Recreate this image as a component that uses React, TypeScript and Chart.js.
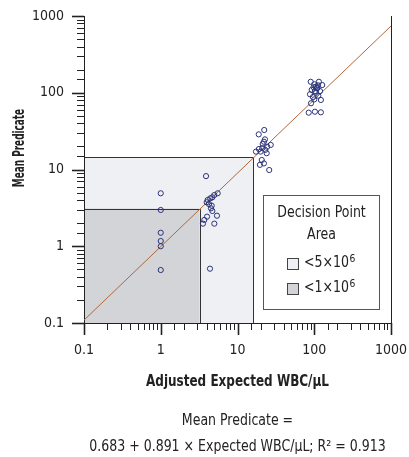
import React, { useEffect, useRef } from "react";
import { Chart, registerables } from "chart.js";

Chart.register(...registerables);

// ---- data ----
const expectedWBC = [
  1, 1, 1, 1, 1, 1,
  3.89, 5.52, 4.99, 4.7, 4.42, 4.09, 3.97, 4.25, 4.61, 4.51, 4.7, 4.01, 5.4, 3.69, 4.99, 3.55, 4.38,
  22.3, 18.9, 22.8, 22.1, 27.1, 21.3, 24.4, 17.4, 20.0, 24.0, 20.7, 22.1, 19.6, 25.9, 19.0, 21.0, 23.0,
  89.9, 115, 127, 100, 108, 92.6, 102, 119, 88, 113, 122, 90.7, 102, 84.7, 122, 105, 110, 112, 98, 106, 96, 100,
];
const meanPredicate = [
  4.9, 2.97, 1.5, 1.17, 1.0, 0.49,
  8.2, 4.9, 4.65, 4.34, 4.21, 4.01, 3.74, 3.55, 3.38, 3.12, 2.88, 2.43, 2.5, 2.2, 1.97, 1.97, 0.51,
  32.7, 28.7, 24.7, 23.0, 20.9, 21.5, 19.8, 17.1, 17.1, 16.3, 13.3, 12.0, 11.5, 9.85, 18.5, 19.0, 18.0,
  139, 139, 126, 129, 114, 109, 105, 105, 95.5, 91.5, 80.5, 72.9, 56.6, 55, 55.6, 120, 115, 125, 118, 100, 88, 82,
];
const fitLineX = [0.1, 1000];
const fitLineY = [0.109, 740];
const axisMin = 0.1;
const axisMax = 1000;
const majorTickLabels = ["0.1", "1", "10", "100", "1000"];
const areaLabels = ["<5×10", "<1×10"];
const areaExponent = "6";
const areaLimitsX = [16, 3.2];
const areaLimitsY = [14.5, 3.1];
const xTitle = "Adjusted Expected WBC/\u03bcL";
const yTitle = "Mean Predicate";
const footLine1 = "Mean Predicate =";
const footLine2 = "0.683 + 0.891 \u00d7 Expected WBC/\u03bcL; R\u00b2 = 0.913";
const legendTitle = ["Decision Point", "Area"];

const FONT = "'DejaVu Sans Condensed', 'Liberation Sans', sans-serif";
const AREA_FILLS = ["#eff0f4", "#d3d4d7"];
const TEXT = "#222222";

// draw text compressed horizontally by sx (to mimic a condensed face)
function drawText(ctx: any, text: string, x: number, y: number, font: string, sx: number, align: string) {
  ctx.save();
  ctx.font = font;
  ctx.textAlign = align;
  ctx.textBaseline = "middle";
  ctx.translate(x, y);
  ctx.scale(sx, 1);
  ctx.fillText(text, 0, 0);
  const w = ctx.measureText(text).width * sx;
  ctx.restore();
  return w;
}

const decor = {
  id: "decor",
  beforeDraw(chart: any) {
    const { ctx, chartArea, scales } = chart;
    const xs = scales.x, ys = scales.y;
    ctx.save();
    for (let i = 0; i < areaLimitsX.length; i++) {
      const x0 = xs.getPixelForValue(axisMin);
      const x1 = xs.getPixelForValue(areaLimitsX[i]);
      const y0 = ys.getPixelForValue(axisMin);
      const y1 = ys.getPixelForValue(areaLimitsY[i]);
      ctx.fillStyle = AREA_FILLS[i];
      ctx.fillRect(x0, y1, x1 - x0, y0 - y1);
      ctx.strokeStyle = "#333";
      ctx.lineWidth = 1;
      ctx.beginPath();
      ctx.moveTo(Math.round(x0) + 0.5, Math.round(y1) + 0.5);
      ctx.lineTo(Math.round(x1) + 0.5, Math.round(y1) + 0.5);
      ctx.lineTo(Math.round(x1) + 0.5, Math.round(y0) + 0.5);
      ctx.stroke();
    }
    ctx.strokeStyle = "#222";
    ctx.beginPath();
    ctx.moveTo(Math.round(chartArea.right) + 0.5, chartArea.top);
    ctx.lineTo(Math.round(chartArea.right) + 0.5, chartArea.bottom);
    ctx.stroke();
    ctx.restore();
  },
  afterDraw(chart: any) {
    const { ctx, chartArea, scales } = chart;
    const xs = scales.x, ys = scales.y;
    ctx.save();
    ctx.strokeStyle = "#222";
    const isMajor = (v: number) => Math.abs(Math.log10(v) - Math.round(Math.log10(v))) < 1e-6;
    ys.ticks.forEach((t: any) => {
      const p = Math.round(ys.getPixelForValue(t.value)) + 0.5;
      const major = isMajor(t.value);
      ctx.lineWidth = major ? 1.6 : 1;
      ctx.beginPath();
      ctx.moveTo(chartArea.left - (major ? 12 : 7), p);
      ctx.lineTo(chartArea.left, p);
      ctx.stroke();
    });
    xs.ticks.forEach((t: any) => {
      const p = Math.round(xs.getPixelForValue(t.value)) + 0.5;
      const major = isMajor(t.value);
      ctx.lineWidth = major ? 1.6 : 1;
      ctx.beginPath();
      ctx.moveTo(p, chartArea.bottom);
      ctx.lineTo(p, chartArea.bottom + (major ? 12 : 7));
      ctx.stroke();
    });

    ctx.fillStyle = TEXT;
    const cx = (chartArea.left + chartArea.right) / 2;
    drawText(ctx, xTitle, cx, 382, `bold 15px ${FONT}`, 0.89, "center");
    ctx.save();
    ctx.translate(20, 148);
    ctx.rotate(-Math.PI / 2);
    drawText(ctx, yTitle, 0, 0, `bold 15px ${FONT}`, 0.66, "center");
    ctx.restore();
    drawText(ctx, footLine1, cx, 421, `15px ${FONT}`, 0.93, "center");
    drawText(ctx, footLine2, cx, 447, `15px ${FONT}`, 0.93, "center");

    // legend box
    const lx0 = 263.5, ly0 = 195.5, lx1 = 379.5, ly1 = 309.5;
    ctx.fillStyle = "#ffffff";
    ctx.fillRect(lx0, ly0, lx1 - lx0, ly1 - ly0);
    ctx.strokeStyle = "#555";
    ctx.lineWidth = 1;
    ctx.strokeRect(lx0, ly0, lx1 - lx0, ly1 - ly0);
    ctx.fillStyle = TEXT;
    const lcx = (lx0 + lx1) / 2;
    drawText(ctx, legendTitle[0], lcx, 213, `15px ${FONT}`, 0.93, "center");
    drawText(ctx, legendTitle[1], lcx, 235, `15px ${FONT}`, 0.93, "center");
    const rowsY = [263, 288.5];
    for (let i = 0; i < areaLabels.length; i++) {
      const sy = Math.round(rowsY[i] - 5.5) + 0.5;
      ctx.fillStyle = AREA_FILLS[i];
      ctx.fillRect(287.5, sy, 11, 11);
      ctx.strokeStyle = "#444";
      ctx.strokeRect(287.5, sy, 11, 11);
      ctx.fillStyle = TEXT;
      const w = drawText(ctx, areaLabels[i], 304, rowsY[i], `15px ${FONT}`, 0.93, "left");
      drawText(ctx, areaExponent, 304 + w + 0.5, rowsY[i] - 4, `11px ${FONT}`, 0.93, "left");
    }
    ctx.restore();
  },
};

const zeroPad = (s: any) => {
  s.paddingLeft = 0;
  s.paddingRight = 0;
  s.paddingTop = 0;
  s.paddingBottom = 0;
};

export default function App() {
  const ref = useRef<HTMLCanvasElement | null>(null);
  useEffect(() => {
    if (!ref.current) return;
    const points = expectedWBC.map((x, i) => ({ x, y: meanPredicate[i] }));
    const line = fitLineX.map((x, i) => ({ x, y: fitLineY[i] }));
    const labelSet = new Set(majorTickLabels);
    const tickCb = (v: any) => {
      const s = String(Number(v));
      return labelSet.has(s) ? s : "";
    };
    const chart = new Chart(ref.current, {
      type: "scatter",
      data: {
        datasets: [
          {
            type: "scatter",
            data: points,
            pointRadius: 2.6,
            pointBorderWidth: 1,
            borderColor: "#2c3479",
            backgroundColor: "rgba(0,0,0,0)",
          } as any,
          {
            type: "line",
            data: line,
            borderColor: "#b0673c",
            borderWidth: 1,
            pointRadius: 0,
            fill: false,
          } as any,
        ],
      },
      options: {
        animation: false,
        responsive: false,
        maintainAspectRatio: false,
        layout: { padding: { left: 0, right: 18, top: 16, bottom: 0 } },
        plugins: { legend: { display: false }, tooltip: { enabled: false } },
        scales: {
          x: {
            type: "logarithmic",
            min: axisMin,
            max: axisMax,
            grid: { display: false, drawTicks: false },
            border: { display: true, color: "#222", width: 1 },
            ticks: {
              autoSkip: false,
              maxRotation: 0,
              padding: 19,
              color: TEXT,
              font: { family: FONT, size: 14 },
              callback: tickCb,
            },
            afterFit: (s: any) => { s.height = 134; zeroPad(s); },
          },
          y: {
            type: "logarithmic",
            min: axisMin,
            max: axisMax,
            grid: { display: false, drawTicks: false },
            border: { display: true, color: "#222", width: 1 },
            ticks: {
              autoSkip: false,
              padding: 20,
              color: TEXT,
              font: { family: FONT, size: 14 },
              callback: tickCb,
            },
            afterFit: (s: any) => { s.width = 84; zeroPad(s); },
          },
        } as any,
      },
      plugins: [decor],
    });
    return () => chart.destroy();
  }, []);
  return (
    <div style={{ position: "fixed", left: 0, top: 0, width: 409, height: 457, background: "#fff" }}>
      <canvas ref={ref} width={409} height={457} style={{ width: 409, height: 457 }} />
    </div>
  );
}
